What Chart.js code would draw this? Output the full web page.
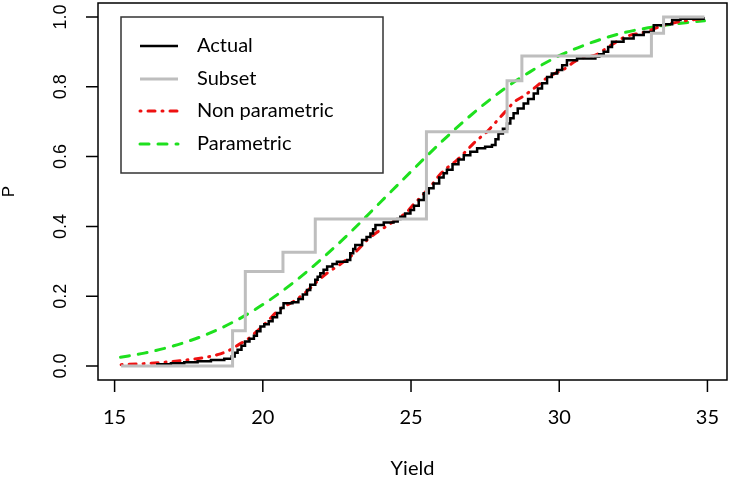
<!DOCTYPE html>
<html><head><meta charset="utf-8">
<script src="https://cdn.jsdelivr.net/npm/chart.js@4/dist/chart.umd.min.js"></script>
<style>html,body{margin:0;padding:0;background:#fff;}#wrap{width:730px;height:478px;}</style>
</head><body><div id="wrap"><canvas id="c" width="730" height="478"></canvas></div>
<script>
const xTicks=[15,20,25,30,35];
const yTicks=[0,0.2,0.4,0.6,0.8,1.0];
const yTickLabels=["0.0","0.2","0.4","0.6","0.8","1.0"];
const xTitle="Yield";
const yTitle="P";
const seriesNames=["Actual","Subset","Non parametric","Parametric"];

const actualX=[16.40,16.90,17.35,17.80,18.25,18.70,18.95,19.05,19.15,19.28,19.40,19.55,19.70,19.80,19.92,20.05,20.20,20.33,20.48,20.60,20.70,21.00,21.20,21.35,21.49,21.60,21.77,21.85,21.94,22.05,22.17,22.35,22.50,22.85,22.95,23.05,23.12,23.35,23.50,23.63,23.72,23.80,24.08,24.41,24.55,24.64,24.80,24.98,25.10,25.26,25.43,25.60,25.76,25.95,26.10,26.21,26.40,26.60,26.78,27.00,27.23,27.50,27.73,27.85,27.95,28.10,28.24,28.35,28.46,28.60,28.80,28.95,29.14,29.28,29.42,29.59,29.75,29.93,30.10,30.26,30.60,31.22,31.35,31.50,31.65,31.78,32.17,32.51,32.85,33.19,33.52,33.81,34.09,34.87];
const actualY=[0.005,0.008,0.011,0.014,0.017,0.021,0.027,0.038,0.047,0.058,0.070,0.078,0.087,0.100,0.113,0.120,0.128,0.140,0.152,0.166,0.180,0.183,0.192,0.205,0.218,0.233,0.247,0.256,0.266,0.276,0.285,0.292,0.299,0.304,0.323,0.335,0.347,0.361,0.370,0.380,0.392,0.404,0.411,0.414,0.421,0.428,0.437,0.447,0.459,0.476,0.495,0.509,0.523,0.540,0.552,0.562,0.578,0.592,0.604,0.614,0.624,0.628,0.633,0.650,0.666,0.680,0.695,0.710,0.724,0.738,0.752,0.765,0.781,0.795,0.810,0.828,0.838,0.848,0.862,0.876,0.881,0.886,0.893,0.900,0.914,0.929,0.938,0.948,0.957,0.976,0.979,0.991,0.995,1.000];

const subsetX=[15.22,18.98,19.41,20.68,21.77,25.52,28.24,28.74,33.11,33.52,34.90];
const subsetY=[0.000,0.101,0.271,0.326,0.421,0.671,0.817,0.888,0.953,1.000,1.000];

const nonparX=[15.22,15.8,16.54,17.2,17.67,18.2,18.57,18.79,18.98,19.2,19.46,19.7,19.92,20.2,20.48,20.75,21.04,21.3,21.6,21.83,22.15,22.5,22.75,22.95,23.25,23.52,23.75,23.97,24.2,24.41,24.65,24.87,25.05,25.26,25.5,25.75,25.99,26.25,26.55,26.85,27.11,27.34,27.56,27.8,28.02,28.25,28.46,28.75,29.02,29.3,29.59,29.85,30.15,30.45,30.71,31.0,31.28,31.55,31.84,32.1,32.4,32.7,32.96,33.25,33.52,33.8,34.09,34.5,34.87];
const nonparY=[0.004,0.006,0.010,0.015,0.020,0.027,0.035,0.042,0.050,0.062,0.075,0.092,0.109,0.132,0.156,0.172,0.185,0.201,0.223,0.242,0.265,0.285,0.300,0.313,0.337,0.361,0.377,0.390,0.402,0.414,0.428,0.442,0.460,0.478,0.500,0.524,0.550,0.570,0.590,0.615,0.638,0.655,0.671,0.693,0.714,0.735,0.755,0.771,0.787,0.806,0.826,0.838,0.850,0.868,0.881,0.886,0.893,0.908,0.924,0.938,0.948,0.953,0.958,0.968,0.976,0.982,0.987,0.992,0.995];

const paramX=[15.2,16,17,18,19,20,21,22,23,24,25,26,27,28,29,30,31,32,33,34,34.9];
const paramY=[0.025,0.037,0.058,0.087,0.126,0.176,0.237,0.308,0.387,0.472,0.557,0.640,0.717,0.785,0.842,0.889,0.924,0.951,0.969,0.981,0.989];

const zip=(xs,ys)=>xs.map((x,i)=>({x:x,y:ys[i]}));
const colors={actual:'#000000',subset:'#bebebe',nonpar:'#ee1111',param:'#1ee01e'};
const styles=[
 {color:colors.actual,width:2.5,dash:[],cap:'butt'},
 {color:colors.subset,width:3,dash:[],cap:'butt'},
 {color:colors.nonpar,width:3,dash:[1,7,7,7],cap:'round'},
 {color:colors.param,width:3,dash:[9,9],cap:'round'}
];

const rPlot={id:'rPlot',afterDraw(chart){
 const ctx=chart.ctx,a=chart.chartArea,xs=chart.scales.x,ys=chart.scales.y;
 ctx.save();
 ctx.strokeStyle='#000';ctx.lineWidth=1.5;ctx.setLineDash([]);
 ctx.strokeRect(a.left,a.top,a.right-a.left,a.bottom-a.top);
 ctx.beginPath();
 xTicks.forEach(v=>{const p=xs.getPixelForValue(v);ctx.moveTo(p,a.bottom);ctx.lineTo(p,a.bottom+12);});
 yTicks.forEach(v=>{const p=ys.getPixelForValue(v);ctx.moveTo(a.left,p);ctx.lineTo(a.left-12,p);});
 ctx.stroke();
 ctx.fillStyle='#000';
 ctx.font="20px Lato";ctx.textAlign='center';ctx.textBaseline='middle';
 xTicks.forEach(v=>{ctx.fillText(String(v),xs.getPixelForValue(v),418);});
 ctx.fillText(xTitle,(a.left+a.right)/2,469);
 ctx.font="18px 'Liberation Sans'";
 yTicks.forEach((v,i)=>{const p=ys.getPixelForValue(v);ctx.save();ctx.translate(61,p);ctx.rotate(-Math.PI/2);ctx.fillText(yTickLabels[i],0,0);ctx.restore();});
 ctx.font="17px 'Liberation Sans'";
 ctx.save();ctx.translate(9,(a.top+a.bottom)/2);ctx.rotate(-Math.PI/2);ctx.fillText(yTitle,0,0);ctx.restore();
 // legend
 const lx=121,ly=17,lw=262,lh=156;
 ctx.fillStyle='#fff';ctx.fillRect(lx,ly,lw,lh);
 ctx.strokeStyle='#333';ctx.lineWidth=1.5;ctx.strokeRect(lx,ly,lw,lh);
 const rows=[46,79,111,144];
 ctx.font="20px Lato";ctx.textAlign='left';ctx.textBaseline='middle';
 seriesNames.forEach((n,i)=>{
  const s=styles[i];
  ctx.strokeStyle=s.color;ctx.lineWidth=s.width;ctx.setLineDash(s.dash);ctx.lineCap=s.cap;
  ctx.beginPath();ctx.moveTo(140,rows[i]);ctx.lineTo(178,rows[i]);ctx.stroke();
  ctx.setLineDash([]);ctx.fillStyle='#000';ctx.fillText(n,197,rows[i]);
 });
 ctx.restore();
}};

const mk=(label,data,s,stepped)=>({label:label,data:data,borderColor:s.color,borderWidth:s.width,borderDash:s.dash,borderCapStyle:s.cap,borderJoinStyle:'miter',pointRadius:0,fill:false,stepped:stepped,tension:stepped?0:0.3,cubicInterpolationMode:stepped?'default':'monotone'});

new Chart(document.getElementById('c'),{
 type:'line',
 data:{datasets:[
  mk(seriesNames[1],zip(subsetX,subsetY),styles[1],'before'),
  mk(seriesNames[0],zip(actualX,actualY),styles[0],'before'),
  mk(seriesNames[2],zip(nonparX,nonparY),styles[2],false),
  mk(seriesNames[3],zip(paramX,paramY),styles[3],false)
 ]},
 options:{
  responsive:false,devicePixelRatio:1,animation:false,
  layout:{padding:{left:98,right:3,top:3,bottom:98}},
  plugins:{legend:{display:false},tooltip:{enabled:false}},
  scales:{
   x:{type:'linear',min:14.44,max:35.66,display:false},
   y:{type:'linear',min:-0.04,max:1.04,display:false}
  }
 },
 plugins:[rPlot]
});
</script></body></html>
